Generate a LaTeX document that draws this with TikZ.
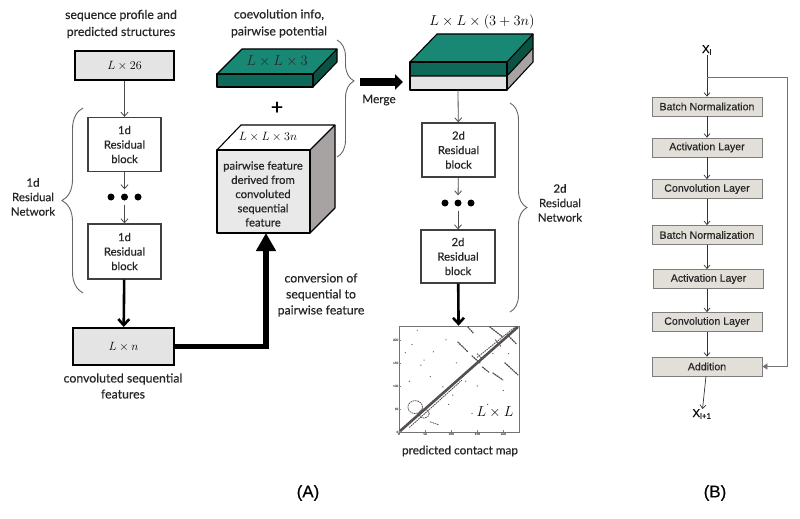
\documentclass[tikz,border=0pt]{standalone}
\usepackage{fontspec}
\setmainfont{Lato}[FakeBold=0.4]
\newfontfamily\arialf{Liberation Sans}[FakeBold=0.3]
\usetikzlibrary{arrows.meta,decorations.pathreplacing,calc}
\definecolor{boxgray}{RGB}{228,228,228}
\definecolor{tealtop}{RGB}{24,135,115}
\definecolor{tealfront}{RGB}{14,105,88}
\definecolor{tealside}{RGB}{10,82,68}
\definecolor{cubefront}{RGB}{233,233,233}
\definecolor{cubeside}{RGB}{168,163,163}
\definecolor{bfill}{RGB}{226,222,216}
\definecolor{bborder}{RGB}{125,125,125}
\definecolor{mapdot}{RGB}{85,80,80}
\begin{document}
\begin{tikzpicture}[x=1pt,y=-1pt,
  txt/.style={font=\fontsize{12.3}{17}\selectfont, align=center, text=black!85, inner sep=0},
  blk/.style={draw=black!75, line width=1.3pt, fill=white, minimum width=73pt, minimum height=54pt, font=\fontsize{11.3}{14.5}\selectfont, align=center, inner sep=0, text=black!85},
  gbox/.style={draw=black, line width=2pt, fill=boxgray, inner sep=0},
  arr/.style={draw=black!70, line width=0.8pt, -{Straight Barb[length=4pt,width=7pt]}},
  tarr/.style={draw=black, line width=2.6pt, -{Straight Barb[length=6pt,width=11pt]}},
  bigdot/.style={circle, fill=black, inner sep=0, minimum size=7pt},
  bnode/.style={draw=bborder, fill=bfill, line width=0.8pt, minimum width=110pt, minimum height=19pt, inner sep=0, font=\arialf\fontsize{10.6}{12}\selectfont, text=black!85},
  barr/.style={draw=black!80, line width=0.7pt, -{Straight Barb[length=3.5pt,width=6pt]}},
  brca/.style={draw=black!60, line width=0.9pt, decorate, decoration={brace, amplitude=#1}},
  brcb/.style={draw=black!60, line width=0.9pt, decorate, decoration={brace, amplitude=17pt, aspect=#1}},
  feat/.style={draw=mapdot, line width=1.3pt, line cap=round, dash pattern=on 1.2pt off 1.2pt},
  edge3d/.style={draw=black, line width=1.1pt, line join=round},
]
\useasboundingbox (0,0) rectangle (800,519);
\fill[white] (0,0) rectangle (800,519);

% ---------------- left column (1d) ----------------
\node[txt] (seqlbl) at (121,24) {sequence profile and\\predicted structures};
\node[gbox, minimum width=99pt, minimum height=29pt] (L26) at (124.5,65.5) {\fontsize{13}{14}\selectfont$L\times 26$};
\node[blk] (b1) at (124.5,144.5) {1d\\Residual\\block};
\node[bigdot] (d1a) at (111,197) {};
\node[bigdot] (d1b) at (124.5,197) {};
\node[bigdot] (d1c) at (138,197) {};
\node[blk, minimum height=55pt] (b2) at (124.5,251.5) {1d\\Residual\\block};
\node[gbox, minimum width=101pt, minimum height=37pt] (Ln) at (123.5,346.5) {\fontsize{13}{14}\selectfont$L\times n$};
\node[txt, font=\fontsize{12.3}{16}\selectfont] (convlbl) at (123,386) {convoluted sequential\\features};
\draw[arr] (L26) -- (b1);
\draw[arr, shorten >=4pt] (b1) -- (d1b);
\draw[arr, shorten <=4pt] (d1b) -- (b2);
\draw[tarr] (b2) -- (Ln);
\draw[brca=21pt] (83,293) -- (83,108);
\node[txt, font=\fontsize{11.5}{14.5}\selectfont] (net1) at (33,197) {1d\\Residual\\Network};

% ---------------- middle ----------------
\node[txt] (coev) at (279,23.5) {coevolution info,\\pairwise potential};
% green slab
\fill[tealfront] (217,74) rectangle (313,87);
\fill[tealtop] (217,74) -- (242,49) -- (337,49) -- (313,74) -- cycle;
\fill[tealside] (313,74) -- (337,49) -- (337,62) -- (313,87) -- cycle;
\draw[edge3d] (217,74) rectangle (313,87);
\draw[edge3d] (217,74) -- (242,49) -- (337,49) -- (313,74);
\draw[edge3d] (337,49) -- (337,62) -- (313,87);
\node[inner sep=0] (g3) at (277,61) {\fontsize{15}{16}\selectfont\color{black!85}$L\times L\times 3$};
\node[inner sep=0] (plus) at (277,108) {\fontsize{21}{21}\selectfont +};
% gray cube
\fill[cubefront] (217,150) rectangle (310,233);
\fill[white] (217,150) -- (241,125) -- (335,125) -- (310,150) -- cycle;
\fill[cubeside] (310,150) -- (335,125) -- (335,208) -- (310,233) -- cycle;
\draw[edge3d] (217,150) rectangle (310,233);
\draw[edge3d] (217,150) -- (241,125) -- (335,125) -- (310,150);
\draw[edge3d] (335,125) -- (335,208) -- (310,233);
\node[inner sep=0] (g3n) at (268,136.5) {\fontsize{12.5}{14}\selectfont$L\times L\times 3n$};
\node[txt, font=\fontsize{11.3}{14.2}\selectfont] (cubetxt) at (263,194) {pairwise feature\\derived from\\convoluted\\sequential\\feature};
\coordinate (cubebot) at (266,233);
\draw[draw=black, line width=5.5pt, line join=miter, -{Triangle[length=18pt,width=19pt]}] (Ln.east) -| (cubebot);
\node[txt, font=\fontsize{12.3}{16}\selectfont] (convarr) at (321,295) {conversion of\\sequential to\\pairwise feature};
\draw[brcb=0.35] (337,40) -- (337,157);
\coordinate (mstart) at (360,82);
\coordinate (mend) at (403,82);
\draw[draw=black, line width=8pt, -{Triangle[length=8pt,width=15pt]}] (mstart) -- (mend);
\node[txt, font=\fontsize{11.8}{13}\selectfont] (merge) at (379,100) {Merge};

% ---------------- right column (2d) ----------------
\node[inner sep=0] (big) at (482,22) {\fontsize{14}{15}\selectfont$L\times L\times (3+3n)$};
\fill[tealfront] (410,62) rectangle (507,76);
\fill[boxgray] (410,76) rectangle (507,90);
\fill[tealtop] (410,62) -- (437,34) -- (533,34) -- (507,62) -- cycle;
\fill[tealside] (507,62) -- (533,34) -- (533,48) -- (507,76) -- cycle;
\fill[cubeside] (507,76) -- (533,48) -- (533,62) -- (507,90) -- cycle;
\draw[edge3d] (410,62) rectangle (507,90);
\draw[edge3d] (410,76) -- (507,76) -- (533,48);
\draw[edge3d] (410,62) -- (437,34) -- (533,34) -- (507,62);
\draw[edge3d] (533,34) -- (533,62) -- (507,90);
\coordinate (slabbot) at (458,90);
\node[blk] (b3) at (458.5,150) {2d\\Residual\\block};
\node[bigdot] (d2a) at (445,203) {};
\node[bigdot] (d2b) at (458,203) {};
\node[bigdot] (d2c) at (471,203) {};
\node[blk, minimum width=74pt, minimum height=53pt] (b4) at (458,256.5) {2d\\Residual\\block};
\draw[arr] (slabbot) -- (b3);
\draw[arr, shorten >=4pt] (b3) -- (d2b);
\draw[arr, shorten <=4pt] (d2b) -- (b4);
\draw[brcb=0.5] (510,103) -- (510,312);
\node[txt, font=\fontsize{11.5}{14.5}\selectfont] (net2) at (560,203) {2d\\Residual\\Network};

% contact map
\node[draw=black!55, line width=0.6pt, minimum width=120pt, minimum height=106pt, inner sep=0] (cmap) at (459,379) {};
\draw[tarr] (b4) -- (cmap);
\begin{scope}[shift={(399,432)}, xscale=0.5217, yscale=-0.4609]
  \foreach \t in {0,50,100,150,200}{
    \draw[black!50, line width=0.4pt] (\t,0) -- (\t,4);
    \draw[black!50, line width=0.4pt] (0,\t) -- (4,\t);
    \node[font=\fontsize{3}{3}\selectfont, text=black!60, inner sep=0.5pt, anchor=north] at (\t,0) {\t};
    \node[font=\fontsize{3}{3}\selectfont, text=black!60, inner sep=0.5pt, anchor=east] at (0,\t) {\t};
  }
  \draw[draw=mapdot, line width=2.6pt] (2,2) -- (228,228);
  \draw[feat, line width=0.9pt] (150,162) -- (225,230);
  \draw[feat, line width=0.9pt] (20,10) -- (120,112);
  \draw[feat] (113,195) -- (132,174);
  \draw[feat] (140,165) -- (155,150);
  \draw[feat] (160,141) -- (172,130);
  \draw[feat] (180,128) -- (199,113);
  \draw[feat] (203,150) -- (228,124);
  \draw[feat] (174,228) -- (199,206);
  \draw[feat] (207,212) -- (226,190);
  \draw[feat] (132,228) -- (142,215);
  \draw[feat, line width=0.9pt] (150,170) -- (160,158);
  \draw[feat, line width=0.9pt] (185,200) -- (195,186);
  \draw[feat, line width=0.8pt] (31,54) circle (14);
  \draw[feat, line width=0.8pt] (48,40) circle (10);
  \draw[feat, line width=0.8pt] (60,22) -- (75,16);
  \foreach \u/\v in {48/156, 42/145, 84/98, 103/80, 128/110, 35/221, 66/174, 12/172, 95/60, 140/40, 170/60, 20/110, 60/120, 150/100, 200/90, 110/150, 25/190, 180/170, 90/200, 210/170}{
    \fill[mapdot] (\u,\v) circle (1.3);
  }
\end{scope}
\node[inner sep=0] (LL) at (495,412) {\fontsize{15}{16}\selectfont$L\times L$};
\node[txt, font=\fontsize{11.8}{13}\selectfont] (cmlbl) at (460,451) {predicted contact map};

% ---------------- panel B ----------------
\node[inner sep=0, font=\arialf\fontsize{11.5}{13}\selectfont] (xl) at (707,50) {X\textsubscript{l}};
\node[bnode] (bn1) at (707,106.5) {Batch Normalization};
\node[bnode] (ac1) at (707,147.5) {Activation Layer};
\node[bnode] (cv1) at (707,189) {Convolution Layer};
\node[bnode] (bn2) at (707,235) {Batch Normalization};
\node[bnode] (ac2) at (708.5,279) {Activation Layer};
\node[bnode] (cv2) at (707,322) {Convolution Layer};
\node[bnode] (add) at (707,366.5) {Addition};
\node[inner sep=0, font=\arialf\fontsize{11.5}{13}\selectfont] (xl1) at (702,414) {X\textsubscript{l+1}};
\coordinate (skip) at (707,77);
\draw[barr] (xl) -- (bn1);
\draw[barr] (bn1) -- (ac1);
\draw[barr] (ac1) -- (cv1);
\draw[barr] (cv1) -- (bn2);
\draw[barr] (bn2) -- (bn2 |- ac2.north);
\draw[barr] (ac2.south -| cv2) -- (cv2);
\draw[barr] (cv2) -- (add);
\draw[barr] (add) -- (xl1);
\draw[draw=black!55, line width=0.8pt, -{Triangle[length=5pt,width=6pt]}] (skip) -- (787,77) |- (add.east);

\node[inner sep=0, font=\arialf\fontsize{17}{19}\selectfont] (labA) at (308,493) {(A)};
\node[inner sep=0, font=\arialf\fontsize{17}{19}\selectfont] (labB) at (715,493) {(B)};
\end{tikzpicture}
\end{document}
